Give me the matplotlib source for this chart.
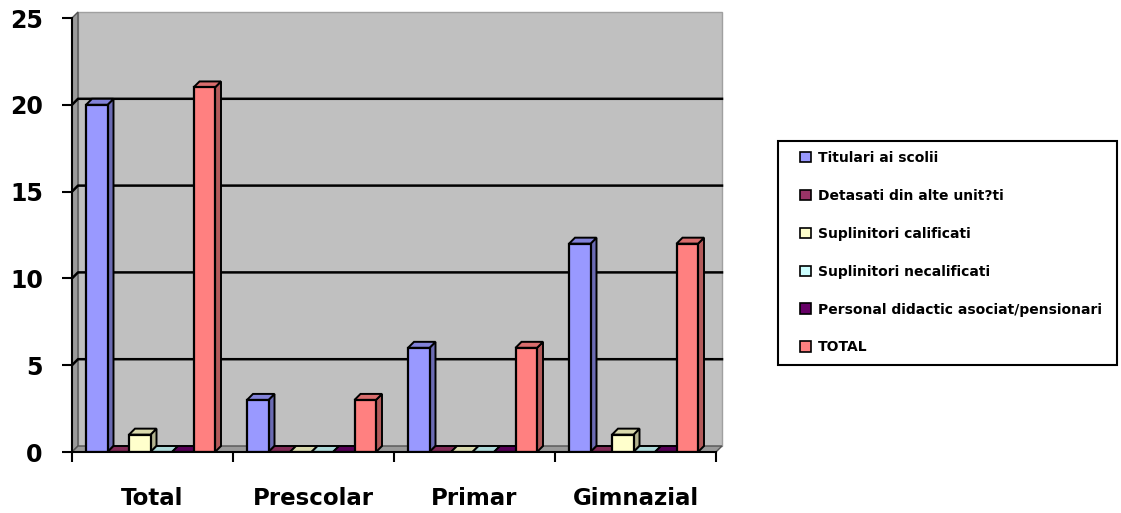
import numpy as np
import matplotlib
matplotlib.use('Agg')
from matplotlib import pyplot as plt
from matplotlib.patches import Polygon, Rectangle
import matplotlib.colors as mcolors

categories = ['Total', 'Prescolar', 'Primar', 'Gimnazial']
series = ['Titulari ai scolii', 'Detasati din alte unit?ti', 'Suplinitori calificati',
          'Suplinitori necalificati', 'Personal didactic asociat/pensionari', 'TOTAL']
titulari = [20, 3, 6, 12]
detasati = [0, 0, 0, 0]
calificati = [1, 0, 0, 1]
necalificati = [0, 0, 0, 0]
personal = [0, 0, 0, 0]
total = [21, 3, 6, 12]
values = [titulari, detasati, calificati, necalificati, personal, total]
colors = ['#9999FF', '#993366', '#FFFFCC', '#CCFFFF', '#660066', '#FF8080']

W, H = 1121, 513
fig = plt.figure(figsize=(W / 100, H / 100), dpi=100)
ax = fig.add_axes([72 / W, 1 - 452 / H, (716 - 72) / W, (452 - 18) / H])
ax.set_xlim(0, 4)
ax.set_ylim(0, 25)
ax.patch.set_visible(False)

# 3D depth offsets (in data units, ~6 px)
dx = 6 / 161.0
dy = 6 / 17.36

def darker(c, f=0.7):
    r, g, b = mcolors.to_rgb(c)
    return (r * f, g * f, b * f)

# walls
ax.add_patch(Polygon([(dx, dy), (4 + dx, dy), (4 + dx, 25 + dy), (dx, 25 + dy)],
                     closed=True, fc='#C0C0C0', ec='#A0A0A0', lw=1, clip_on=False, zorder=0))
ax.add_patch(Polygon([(0, 0), (dx, dy), (dx, 25 + dy), (0, 25)],
                     closed=True, fc='#9A9A9A', ec='#555555', lw=1, clip_on=False, zorder=0))
ax.add_patch(Polygon([(0, 0), (4, 0), (4 + dx, dy), (dx, dy)],
                     closed=True, fc='#9A9A9A', ec='#555555', lw=1, clip_on=False, zorder=0))
for v in [5, 10, 15, 20]:
    ax.plot([0, dx, 4 + dx], [v, v + dy, v + dy], color='black', lw=1.8,
            clip_on=False, zorder=1)

# bars
slot = 21.5 / 161.0
start = 14 / 161.0
x0 = np.arange(len(categories))
for i, (vals, col) in enumerate(zip(values, colors)):
    xs = x0 + start + i * slot
    ax.bar(xs, vals, width=slot, align='edge', color=col, edgecolor='black',
           linewidth=1.6, zorder=3, label=series[i])
    for x, v in zip(xs, vals):
        side = Polygon([(x + slot, 0), (x + slot + dx, dy), (x + slot + dx, v + dy), (x + slot, v)],
                       closed=True, fc=darker(col), ec='black', lw=1.4, clip_on=False, zorder=2)
        top = Polygon([(x, v), (x + dx, v + dy), (x + slot + dx, v + dy), (x + slot, v)],
                      closed=True, fc=darker(col, 0.85), ec='black', lw=1.4, clip_on=False, zorder=2)
        ax.add_patch(side)
        ax.add_patch(top)

# axes styling
for s in ['top', 'right']:
    ax.spines[s].set_visible(False)
ax.spines['left'].set_linewidth(1.5)
ax.spines['bottom'].set_linewidth(1.5)
ax.spines['left'].set_zorder(5)
ax.spines['bottom'].set_zorder(5)
ax.set_yticks([0, 5, 10, 15, 20, 25])
ax.tick_params(axis='y', direction='out', length=7, width=1.5, pad=14, labelsize=17)
for lbl in ax.get_yticklabels():
    lbl.set_fontweight('bold')
ax.set_xticks([0, 1, 2, 3, 4])
ax.set_xticklabels([])
ax.tick_params(axis='x', which='major', direction='out', length=7, width=1.5)
ax.set_xticks(x0 + 0.5, minor=True)
ax.set_xticklabels(categories, minor=True, fontsize=16.5, fontweight='bold')
ax.tick_params(axis='x', which='minor', length=0, pad=25)

# legend
fig.patches.append(Rectangle((778 / W, 1 - 365 / H), (1117 - 778) / W, (365 - 141) / H,
                             transform=fig.transFigure, fc='white', ec='black', lw=1.5,
                             zorder=-1))
leg = ax.legend(loc='upper left', bbox_to_anchor=(800 / W, 1 - 151 / H),
                bbox_transform=fig.transFigure, frameon=False, borderpad=0,
                borderaxespad=0, labelspacing=1.72, handlelength=0.8, handleheight=0.8,
                handletextpad=0.5, prop={'size': 10, 'weight': 'bold'})
for h in leg.legend_handles:
    h.set_linewidth(1.2)

fig.savefig('out.png', dpi=100)
